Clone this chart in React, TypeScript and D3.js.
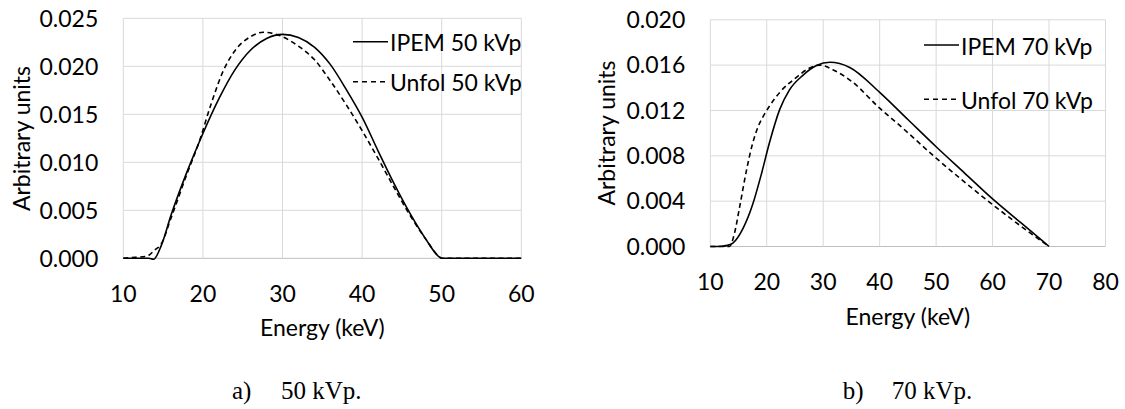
import * as d3 from 'd3';

// ---- data ----
const ipem50Energy = [10, 12, 13.2, 13.8, 14.8, 16, 18, 20, 22, 24, 26, 28, 30, 32, 34, 36, 38, 40, 42, 44, 46, 48, 49.6, 50, 55, 60];
const ipem50Values = [0, 0, 0, -0.0001, 0.0014, 0.0045, 0.009, 0.013, 0.0166, 0.0196, 0.0217, 0.0229, 0.02333, 0.023, 0.022, 0.0202, 0.0176, 0.0147, 0.0112, 0.0078, 0.0047, 0.002, 0.0002, 0, 0, 0];

const unfol50Energy = [10, 11.5, 12.9, 14, 14.7, 16, 18, 19.6, 21, 22.6, 24, 26, 27.6, 29.3, 32, 34, 36, 38, 40, 42, 44, 46, 48, 49.8, 50, 55, 60];
const unfol50Values = [0, 0.0001, 0.0002, 0.0009, 0.0014, 0.0042, 0.0088, 0.0123, 0.016, 0.0196, 0.0216, 0.0231, 0.02355, 0.0233, 0.0221, 0.0207, 0.0185, 0.016, 0.0133, 0.0104, 0.0074, 0.0045, 0.002, 0.0001, 0, 0, 0];

const ipem70Energy = [10, 12, 13, 14.0, 15.8, 17.5, 19.0, 20.5, 22.3, 24.0, 26.4, 28.8, 31.2, 34.7, 40, 45, 50, 55, 60, 65, 70];
const ipem70Values = [0, 0.00002, 0.0001, 0.0003, 0.0016, 0.0037, 0.0063, 0.0092, 0.0121, 0.0138, 0.0151, 0.01596, 0.01625, 0.0158, 0.0136, 0.0112, 0.0088, 0.0065, 0.0042, 0.0021, 0];

const unfol70Energy = [10, 13.4, 14.3, 15.2, 16.4, 17.5, 18.5, 19.5, 20.5, 22.3, 25.2, 27.6, 29.5, 31.7, 35.2, 40, 43.5, 50, 55, 60, 65, 70];
const unfol70Values = [0, 0, 0.0012, 0.0035, 0.0067, 0.0091, 0.0106, 0.0116, 0.0124, 0.0136, 0.0149, 0.01575, 0.016, 0.0156, 0.0145, 0.0122, 0.0107, 0.0078, 0.0057, 0.0037, 0.0018, 0];

const xTicks50 = [10, 20, 30, 40, 50, 60];
const yTicks50 = [0, 0.005, 0.01, 0.015, 0.02, 0.025];
const xTicks70 = [10, 20, 30, 40, 50, 60, 70, 80];
const yTicks70 = [0, 0.004, 0.008, 0.012, 0.016, 0.02];

const legend50 = ['IPEM 50 kVp', 'Unfol 50 kVp'];
const legend70 = ['IPEM 70 kVp', 'Unfol 70 kVp'];

const font = 'Lato, "Open Sans", sans-serif';

function Panel({ left, right, top, bottom, xTicks, yTicks, solidX, solidY, dashX, dashY,
  legend, legendX, legendY, xLabelY, yTitleX, yTitleY, xTitleY }) {
  // scales
  const x = d3.scaleLinear().domain([xTicks[0], xTicks[xTicks.length - 1]]).range([left, right]);
  const y = d3.scaleLinear().domain([yTicks[0], yTicks[yTicks.length - 1]]).range([bottom, top]);
  const fmt = d3.format('.3f');

  const line = d3.line<[number, number]>()
    .x((d) => x(d[0]))
    .y((d) => y(d[1]))
    .curve(d3.curveMonotoneX);

  const solid = line(solidX.map((e, i) => [e, solidY[i]]));
  const dashed = line(dashX.map((e, i) => [e, dashY[i]]));

  return (
    <g>
      {/* gridlines */}
      {yTicks.map((t) => (
        <line key={'gy' + t} x1={left} x2={right} y1={y(t)} y2={y(t)}
          stroke={t === 0 ? '#bfbfbf' : '#d9d9d9'} strokeWidth={1} />
      ))}
      {xTicks.map((t) => (
        <line key={'gx' + t} x1={x(t)} x2={x(t)} y1={top} y2={bottom}
          stroke='#d9d9d9' strokeWidth={1} />
      ))}

      {/* tick labels */}
      {yTicks.map((t) => (
        <text key={'ly' + t} x={left - 25} y={y(t)} dy='0.36em' textAnchor='end'
          fontFamily={font} fontSize={23} fill='#000'>{fmt(t)}</text>
      ))}
      {xTicks.map((t) => (
        <text key={'lx' + t} x={x(t)} y={xLabelY} dy='0.36em' textAnchor='middle'
          fontFamily={font} fontSize={23} fill='#000'>{t}</text>
      ))}

      {/* axis titles */}
      <text transform={`translate(${yTitleX},${yTitleY}) rotate(-90)`} dy='0.36em'
        textAnchor='middle' fontFamily={font} fontSize={23} fill='#000'>Arbitrary units</text>
      <text x={(left + right) / 2} y={xTitleY} dy='0.36em' textAnchor='middle'
        fontFamily={font} fontSize={23} fill='#000'>Energy (keV)</text>

      {/* series */}
      <path d={solid} fill='none' stroke='#000' strokeWidth={1.6} />
      <path d={dashed} fill='none' stroke='#000' strokeWidth={1.6} strokeDasharray='5 3.5' />

      {/* legend */}
      <line x1={legendX} x2={legendX + 35} y1={legendY[0]} y2={legendY[0]} stroke='#000' strokeWidth={1.6} />
      <text x={legendX + 37} y={legendY[0] + 1.5} dy='0.36em' fontFamily={font} fontSize={23} fill='#000'>{legend[0]}</text>
      <line x1={legendX} x2={legendX + 35} y1={legendY[1]} y2={legendY[1]} stroke='#000' strokeWidth={1.6} strokeDasharray='5 4' />
      <text x={legendX + 37} y={legendY[1] + 1.5} dy='0.36em' fontFamily={font} fontSize={23} fill='#000'>{legend[1]}</text>
    </g>
  );
}

export default function App() {
  const width = 1125;
  const height = 409;
  const serif = '"Liberation Serif", "Times New Roman", serif';

  return (
    <svg width={width} height={height} style={{ position: 'absolute', left: 0, top: 0, background: '#fff' }}>
      <rect width={width} height={height} fill='#fff' />
      <Panel left={123.3} right={521.3} top={18.3} bottom={258.3}
        xTicks={xTicks50} yTicks={yTicks50}
        solidX={ipem50Energy} solidY={ipem50Values}
        dashX={unfol50Energy} dashY={unfol50Values}
        legend={legend50} legendX={353} legendY={[41.7, 81.7]}
        xLabelY={293.3} yTitleX={21.7} yTitleY={138.5} xTitleY={328} />
      <Panel left={710.3} right={1105.5} top={19.8} bottom={246.5}
        xTicks={xTicks70} yTicks={yTicks70}
        solidX={ipem70Energy} solidY={ipem70Values}
        dashX={unfol70Energy} dashY={unfol70Values}
        legend={legend70} legendX={924} legendY={[45, 99.3]}
        xLabelY={281.7} yTitleX={606.5} yTitleY={133} xTitleY={316.7} />

      {/* captions */}
      <text x={232} y={398.5} fontFamily={serif} fontSize={25} fill='#000'>a)</text>
      <text x={281} y={398.5} fontFamily={serif} fontSize={25} fill='#000'>50 kVp.</text>
      <text x={842.7} y={398.5} fontFamily={serif} fontSize={25} fill='#000'>b)</text>
      <text x={891.7} y={398.5} fontFamily={serif} fontSize={25} fill='#000'>70 kVp.</text>
    </svg>
  );
}
